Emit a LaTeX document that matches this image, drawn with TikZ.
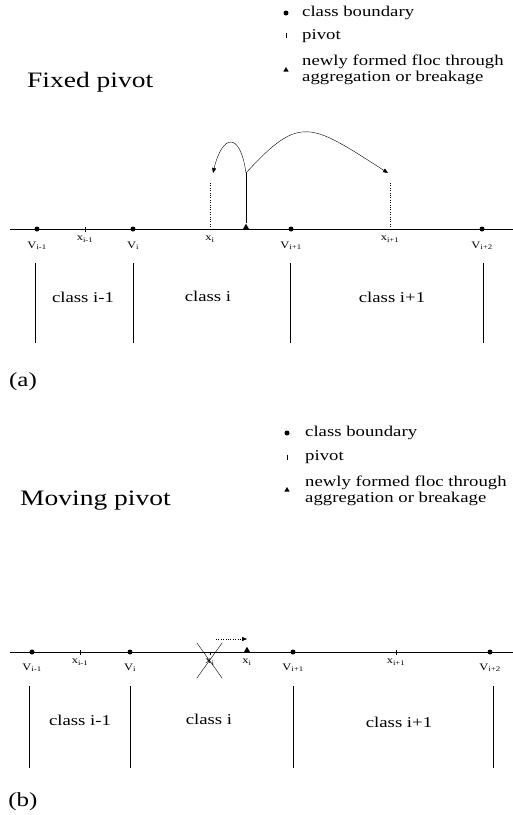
\documentclass[tikz,border=0pt]{standalone}
\usepackage{fontspec}
\setmainfont[FakeStretch=1.25]{Liberation Serif}
\usetikzlibrary{positioning,shapes.geometric,shapes.misc,arrows.meta}

\begin{document}
\begin{tikzpicture}[x=1pt,y=-1pt,
    bdry/.style={circle,fill,inner sep=0pt,minimum size=5pt},
    floc/.style={regular polygon,regular polygon sides=3,fill,inner sep=0pt,minimum size=8pt},
    sublbl/.style={inner sep=0pt,font=\fontsize{10}{11}\selectfont},
    classlbl/.style={inner sep=0pt,font=\fontsize{15}{17}\selectfont},
    legend/.style={anchor=west,align=left,inner sep=0pt,font=\fontsize{15}{15.5}\selectfont},
    title/.style={anchor=west,inner sep=0pt,font=\fontsize{22}{24}\selectfont},
    panel/.style={inner sep=0pt,font=\fontsize{20}{22}\selectfont},
    axis/.style={line width=0.8pt},
    sep/.style={line width=0.6pt},
    tip/.style={-{Triangle[length=5pt,width=4pt]}}]
  \useasboundingbox (0,0) rectangle (513,815);

  % (a) fixed pivot
  \node (titlea) [title] at (27,82) {Fixed pivot};
  \node (kdota)  [bdry] at (286,13) {};
  \node (kbdrya) [legend] at (302,13) {class boundary};
  \draw (286,33) -- (286,38);
  \node (kpiva)  [legend] at (302,36) {pivot};
  \node (kfloca) [floc,minimum size=6pt] at (286,70) {};
  \node (knewa)  [legend] at (302,70) {newly formed floc through\\aggregation or breakage};

  \coordinate (axla) at (10,229);
  \coordinate (axra) at (513,229);
  \draw [axis] (axla) -- (axra);

  \node (Vim1a) [bdry] at (37,229)  {};
  \node (Via)   [bdry] at (133,229) {};
  \node (Vip1a) [bdry] at (291,229) {};
  \node (Vip2a) [bdry] at (482,229) {};
  \coordinate (xim1a) at (85,229);
  \coordinate (xia)   at (210,229);
  \coordinate (xip1a) at (390,229);
  \draw ([yshift=-2.5pt]xim1a) -- ([yshift=2.5pt]xim1a);

  \node [sublbl,below=10pt of Vim1a] {V\textsubscript{i-1}};
  \node [sublbl,below=10pt of Via]   {V\textsubscript{i}};
  \node [sublbl,below=10pt of Vip1a] {V\textsubscript{i+1}};
  \node [sublbl,below=10pt of Vip2a] {V\textsubscript{i+2}};
  \node [sublbl,below=7pt of xim1a]  {x\textsubscript{i-1}};
  \node [sublbl,below=7pt of xia]    {x\textsubscript{i}};
  \node [sublbl,below=7pt of xip1a]  {x\textsubscript{i+1}};

  \coordinate (xitopa)   at (210,181);
  \coordinate (xip1topa) at (390,181);
  \draw [dotted] (xia) -- (xitopa);
  \draw [dotted] (xip1a) -- (xip1topa);

  \node (floca) [floc,anchor=south] at (246,230) {};
  \coordinate (joina) at (246,173);
  \coordinate (arrla) at (213,173);
  \coordinate (arrra) at (388,173);
  \draw (floca.north) -- (joina);
  \draw [tip] (joina) .. controls (240,130) and (222,135) .. (arrla);
  \draw [tip] (joina) .. controls (300,114) and (310,123) .. (arrra);

  \draw [sep] (35,263) -- (35,343);
  \draw [sep] (133,263) -- (133,343);
  \draw [sep] (290,263) -- (290,343);
  \draw [sep] (483,263) -- (483,343);
  \node [classlbl] at (83,297)  {class i-1};
  \node [classlbl] at (208,296) {class i};
  \node [classlbl] at (392,297) {class i+1};
  \node (lbla) [panel] at (23,382) {(a)};

  % (b) moving pivot
  \node (titleb) [title] at (20,501) {Moving pivot};
  \node (kdotb)  [bdry] at (287,433) {};
  \node (kbdryb) [legend] at (305,433) {class boundary};
  \draw (287,455) -- (287,460);
  \node (kpivb)  [legend] at (305,457) {pivot};
  \node (kflocb) [floc,minimum size=6pt] at (287,490) {};
  \node (knewb)  [legend] at (305,491) {newly formed floc through\\aggregation or breakage};

  \coordinate (axlb) at (10,652);
  \coordinate (axrb) at (513,652);
  \draw [axis] (axlb) -- (axrb);

  \node (Vim1b) [bdry] at (32,652)  {};
  \node (Vib)   [bdry] at (130,652) {};
  \node (Vip1b) [bdry] at (293,652) {};
  \node (Vip2b) [bdry] at (490,652) {};
  \coordinate (xim1b) at (80,652);
  \coordinate (xioldb) at (210,652);
  \coordinate (xip1b) at (396,652);
  \draw ([yshift=-2.5pt]xim1b) -- ([yshift=2.5pt]xim1b);
  \draw ([yshift=-2.5pt]xioldb) -- (xioldb);
  \draw ([yshift=-2.5pt]xip1b) -- ([yshift=2.5pt]xip1b);

  \node [sublbl,below=9pt of Vim1b] {V\textsubscript{i-1}};
  \node [sublbl,below=9pt of Vib]   {V\textsubscript{i}};
  \node [sublbl,below=9pt of Vip1b] {V\textsubscript{i+1}};
  \node [sublbl,below=9pt of Vip2b] {V\textsubscript{i+2}};
  \node [sublbl,below=7pt of xim1b]  {x\textsubscript{i-1}};
  \node [sublbl,below=7pt of xioldb] {x\textsubscript{i}};
  \node [sublbl,below=7pt of xip1b]  {x\textsubscript{i+1}};

  \node (crossb) [cross out,draw,minimum width=25pt,minimum height=35pt] at (209.5,660.5) {};
  \node (flocb) [floc,anchor=south] at (247,653) {};
  \coordinate (xinewb) at (247,652);
  \node [sublbl,below=7pt of xinewb] {x\textsubscript{i}};
  \coordinate (mvsb) at (216,639);
  \coordinate (mveb) at (247,639);
  \draw [dotted,tip] (mvsb) -- (mveb);

  \draw [sep] (29,686) -- (29,768);
  \draw [sep] (130,686) -- (130,768);
  \draw [sep] (293,686) -- (293,768);
  \draw [sep] (493,686) -- (493,768);
  \node [classlbl] at (80,720)  {class i-1};
  \node [classlbl] at (209,719) {class i};
  \node [classlbl] at (399,722) {class i+1};
  \node (lblb) [panel] at (23,802) {(b)};
\end{tikzpicture}
\end{document}
